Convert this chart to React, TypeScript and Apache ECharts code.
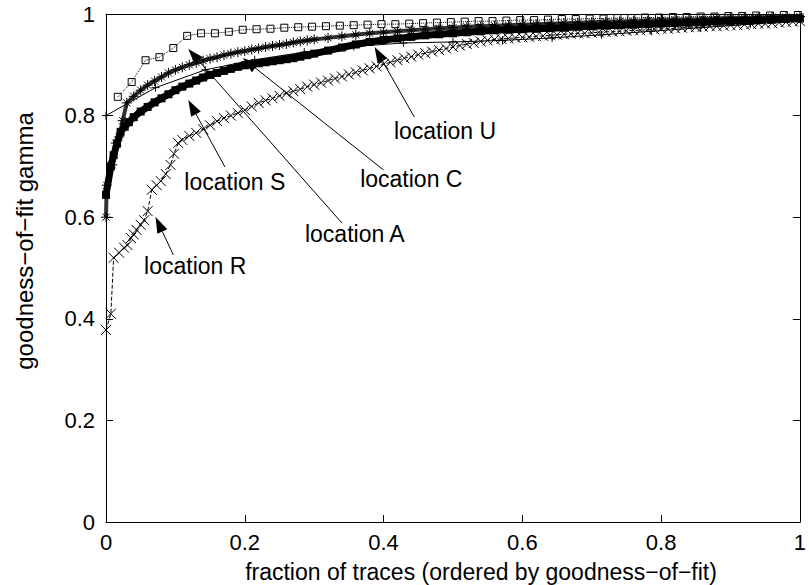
import React, { useEffect, useRef } from "react";
import * as echarts from "echarts";

// ---------- data ----------
const xTicks = [0, 0.2, 0.4, 0.6, 0.8, 1];
const yTicks = [0, 0.2, 0.4, 0.6, 0.8, 1];

// open squares, dotted line (topmost curve)
const seriesBox: [number, number][] = [
  [0.017, 0.837], [0.037, 0.866], [0.057, 0.909], [0.077, 0.915], [0.097, 0.933],
  [0.117, 0.957], [0.137, 0.962], [0.157, 0.962], [0.177, 0.965], [0.197, 0.969],
  [0.217, 0.97], [0.237, 0.971], [0.257, 0.973], [0.277, 0.974], [0.297, 0.975],
  [0.317, 0.976], [0.337, 0.977], [0.357, 0.978], [0.377, 0.979], [0.397, 0.98],
  [0.417, 0.98], [0.437, 0.981], [0.457, 0.982], [0.477, 0.983], [0.497, 0.984],
  [0.517, 0.985], [0.537, 0.986], [0.557, 0.986], [0.577, 0.987], [0.597, 0.988],
  [0.617, 0.988], [0.637, 0.989], [0.657, 0.99], [0.677, 0.99], [0.697, 0.991],
  [0.717, 0.991], [0.737, 0.992], [0.757, 0.992], [0.777, 0.993], [0.797, 0.993],
  [0.817, 0.994], [0.837, 0.994], [0.857, 0.995], [0.877, 0.995], [0.897, 0.996],
  [0.917, 0.996], [0.937, 0.997], [0.957, 0.997], [0.977, 0.998], [0.997, 0.998],
];

// location U: plus markers, solid thin line
const seriesU: [number, number][] = [
  [0, 0.8], [0.0714, 0.855], [0.1429, 0.89], [0.2143, 0.91], [0.2857, 0.925],
  [0.3571, 0.936], [0.4286, 0.943], [0.5, 0.945], [0.5714, 0.948], [0.6429, 0.953],
  [0.7143, 0.959], [0.7857, 0.966], [0.8571, 0.973], [0.9286, 0.98], [1, 0.99],
];

// location A: asterisks
const seriesA: [number, number][] = [
  [0, 0.6], [0.001, 0.663], [0.009, 0.703], [0.014, 0.746], [0.019, 0.758],
  [0.024, 0.79], [0.03, 0.825], [0.04, 0.838], [0.05, 0.85], [0.06, 0.86],
  [0.07, 0.868], [0.08, 0.876], [0.09, 0.884], [0.1, 0.89], [0.11, 0.895],
  [0.12, 0.9], [0.13, 0.904], [0.14, 0.908], [0.15, 0.912], [0.16, 0.915],
  [0.17, 0.919], [0.18, 0.922], [0.19, 0.925], [0.2, 0.927], [0.21, 0.93],
  [0.22, 0.932], [0.23, 0.935], [0.24, 0.937], [0.25, 0.939], [0.26, 0.941],
  [0.27, 0.944], [0.28, 0.946], [0.29, 0.948], [0.3, 0.95], [0.32, 0.953],
  [0.34, 0.956], [0.36, 0.959], [0.38, 0.962], [0.4, 0.964], [0.42, 0.966],
  [0.44, 0.968], [0.46, 0.97], [0.48, 0.972], [0.5, 0.973], [0.52, 0.975],
  [0.54, 0.976], [0.56, 0.977], [0.58, 0.978], [0.6, 0.979], [0.62, 0.98],
  [0.64, 0.981], [0.66, 0.982], [0.68, 0.983], [0.7, 0.984], [0.72, 0.985],
  [0.74, 0.985], [0.76, 0.986], [0.78, 0.987], [0.8, 0.988], [0.82, 0.989],
  [0.84, 0.989], [0.86, 0.99], [0.88, 0.991], [0.9, 0.992], [0.92, 0.992],
  [0.94, 0.993], [0.96, 0.994], [0.98, 0.994], [1, 0.995],
];

// location S: filled squares
const seriesS: [number, number][] = [
  [0, 0.644], [0.007, 0.7], [0.011, 0.722], [0.016, 0.745], [0.021, 0.768],
  [0.027, 0.778], [0.033, 0.787], [0.04, 0.797], [0.05, 0.808], [0.06, 0.817],
  [0.07, 0.826], [0.08, 0.834], [0.09, 0.842], [0.1, 0.85], [0.11, 0.857],
  [0.12, 0.863], [0.13, 0.869], [0.14, 0.875], [0.15, 0.88], [0.16, 0.884],
  [0.17, 0.888], [0.18, 0.892], [0.19, 0.896], [0.2, 0.899], [0.21, 0.901],
  [0.22, 0.903], [0.23, 0.905], [0.24, 0.907], [0.25, 0.909], [0.26, 0.911],
  [0.27, 0.913], [0.28, 0.916], [0.29, 0.919], [0.3, 0.922], [0.32, 0.928],
  [0.34, 0.934], [0.36, 0.94], [0.38, 0.945], [0.4, 0.949], [0.42, 0.952],
  [0.44, 0.955], [0.46, 0.958], [0.48, 0.96], [0.5, 0.962], [0.52, 0.964],
  [0.54, 0.966], [0.56, 0.968], [0.58, 0.969], [0.6, 0.97], [0.62, 0.971],
  [0.64, 0.972], [0.66, 0.973], [0.68, 0.975], [0.7, 0.976], [0.72, 0.977],
  [0.74, 0.978], [0.76, 0.979], [0.78, 0.98], [0.8, 0.981], [0.82, 0.982],
  [0.84, 0.983], [0.86, 0.984], [0.88, 0.985], [0.9, 0.986], [0.92, 0.987],
  [0.94, 0.988], [0.96, 0.989], [0.98, 0.99], [1, 0.991],
];

// location R: crosses, dashed line (lowest curve)
const seriesR: [number, number][] = [
  [0, 0.378], [0.007, 0.41], [0.011, 0.52], [0.019, 0.53], [0.026, 0.54],
  [0.031, 0.545], [0.036, 0.559], [0.04, 0.566], [0.044, 0.575], [0.05, 0.585],
  [0.055, 0.594], [0.06, 0.612], [0.066, 0.654], [0.073, 0.663], [0.079, 0.671],
  [0.086, 0.685], [0.093, 0.703], [0.098, 0.725], [0.104, 0.746], [0.11, 0.752],
  [0.12, 0.76], [0.13, 0.766], [0.14, 0.773], [0.15, 0.781], [0.16, 0.789],
  [0.17, 0.795], [0.18, 0.8], [0.19, 0.805], [0.2, 0.811], [0.21, 0.818],
  [0.22, 0.825], [0.23, 0.83], [0.24, 0.834], [0.25, 0.839], [0.26, 0.844],
  [0.27, 0.848], [0.28, 0.852], [0.29, 0.857], [0.3, 0.861], [0.31, 0.865],
  [0.32, 0.869], [0.33, 0.873], [0.34, 0.877], [0.35, 0.881], [0.36, 0.885],
  [0.37, 0.889], [0.38, 0.893], [0.39, 0.897], [0.4, 0.901], [0.41, 0.905],
  [0.42, 0.909], [0.43, 0.913], [0.44, 0.916], [0.45, 0.92], [0.46, 0.923],
  [0.47, 0.926], [0.48, 0.929], [0.49, 0.932], [0.5, 0.935], [0.51, 0.938],
  [0.52, 0.941], [0.53, 0.943], [0.54, 0.946], [0.55, 0.948], [0.56, 0.95],
  [0.57, 0.951], [0.58, 0.952], [0.59, 0.953], [0.6, 0.954], [0.61, 0.955],
  [0.62, 0.956], [0.63, 0.957], [0.64, 0.958], [0.65, 0.959], [0.66, 0.96],
  [0.67, 0.961], [0.68, 0.962], [0.69, 0.962], [0.7, 0.963], [0.71, 0.964],
  [0.72, 0.965], [0.73, 0.965], [0.74, 0.966], [0.75, 0.967], [0.76, 0.968],
  [0.77, 0.968], [0.78, 0.969], [0.79, 0.97], [0.8, 0.971], [0.81, 0.971],
  [0.82, 0.972], [0.83, 0.973], [0.84, 0.974], [0.85, 0.974], [0.86, 0.975],
  [0.87, 0.976], [0.88, 0.976], [0.89, 0.977], [0.9, 0.978], [0.91, 0.978],
  [0.92, 0.979], [0.93, 0.98], [0.94, 0.981], [0.95, 0.981], [0.96, 0.982],
  [0.97, 0.983], [0.98, 0.984], [0.99, 0.985], [1, 0.986],
];

// annotations: label text, label centre, arrow tail, arrow tip (data coordinates)
const labelTexts = ["location U", "location C", "location A", "location S", "location R"];
const labelCenters: [number, number][] = [
  [0.4886, 0.7697], [0.44, 0.675], [0.3586, 0.567], [0.1857, 0.669], [0.1286, 0.504],
];
const arrowTails: [number, number][] = [
  [0.4443, 0.7972], [0.4, 0.6929], [0.34, 0.5886], [0.1714, 0.6988], [0.0971, 0.5256],
];
const arrowTips: [number, number][] = [
  [0.3871, 0.935], [0.1971, 0.9134], [0.1186, 0.9311], [0.1186, 0.8307], [0.0714, 0.6004],
];

const xTitle = "fraction of traces (ordered by goodness\u2212of\u2212fit)";
const yTitle = "goodness\u2212of\u2212fit gamma";

// ---------- symbols ----------
const SYM_PLUS = "path://M0,5L10,5M5,0L5,10";
const SYM_CROSS = "path://M0,0L10,10M10,0L0,10";
const SYM_STAR = "path://M0,5L10,5M5,0L5,10M1.5,1.5L8.5,8.5M8.5,1.5L1.5,8.5";
const SYM_BOX = "path://M0,0L10,0L10,10L0,10Z";

const FONT = '"Liberation Sans", Arial, Helvetica, sans-serif';

export default function App() {
  const ref = useRef<HTMLDivElement>(null);

  useEffect(() => {
    document.body.style.margin = "0";
    if (!ref.current) return;
    const chart = echarts.init(ref.current, undefined, { renderer: "svg" });

    const strokeSym = { color: "transparent", borderColor: "#000", borderWidth: 1 };
    const common = {
      type: "line" as const,
      xAxisIndex: 0,
      yAxisIndex: 0,
      showSymbol: true,
      showAllSymbol: true,
      silent: true,
      emphasis: { disabled: true },
      animation: false,
    };

    const axisBase = {
      type: "value" as const,
      min: xTicks[0],
      max: xTicks[xTicks.length - 1],
      interval: xTicks[1] - xTicks[0],
      splitLine: { show: false },
      axisLine: { show: true, onZero: false, lineStyle: { color: "#000", width: 1 } },
      axisTick: { show: true, inside: true, length: 7, lineStyle: { color: "#000", width: 1 } },
    };
    const yAxisBase = {
      ...axisBase,
      min: yTicks[0],
      max: yTicks[yTicks.length - 1],
      interval: yTicks[1] - yTicks[0],
    };

    chart.setOption({
      animation: false,
      grid: { left: 106, right: 2, top: 14, bottom: 63, containLabel: false },
      xAxis: [
        {
          ...axisBase,
          position: "bottom",
          axisLabel: { show: true, color: "#000", fontSize: 22, fontFamily: FONT, margin: 9 },
        },
        { ...axisBase, position: "top", axisLabel: { show: false } },
      ],
      yAxis: [
        {
          ...yAxisBase,
          position: "left",
          axisLabel: { show: true, color: "#000", fontSize: 22, fontFamily: FONT, margin: 11 },
        },
        { ...yAxisBase, position: "right", axisLabel: { show: false } },
      ],
      series: [
        {
          ...common,
          name: "boxes",
          data: seriesBox,
          symbol: SYM_BOX,
          symbolSize: 7,
          itemStyle: strokeSym,
          lineStyle: { color: "#000", width: 1, type: "dotted" },
        },
        {
          ...common,
          name: "location U",
          data: seriesU,
          symbol: SYM_PLUS,
          symbolSize: 8,
          itemStyle: strokeSym,
          lineStyle: { color: "#000", width: 1 },
        },
        {
          ...common,
          name: "location A",
          data: seriesA,
          symbol: SYM_STAR,
          symbolSize: 10,
          itemStyle: strokeSym,
          lineStyle: { color: "#333", width: 4 },
        },
        {
          ...common,
          name: "location S",
          data: seriesS,
          symbol: "rect",
          symbolSize: 8,
          itemStyle: { color: "#000" },
          lineStyle: { color: "#000", width: 7 },
        },
        {
          ...common,
          name: "location R",
          data: seriesR,
          symbol: SYM_CROSS,
          symbolSize: 10,
          itemStyle: strokeSym,
          lineStyle: { color: "#000", width: 1, type: "dashed" },
        },
      ],
    });

    const toPx = (p: [number, number]) =>
      chart.convertToPixel({ xAxisIndex: 0, yAxisIndex: 0 }, p) as number[];

    const graphics: any[] = [];
    const headLen = 16;
    const headHalf = 5.5;
    for (let i = 0; i < labelTexts.length; i++) {
      const c = toPx(labelCenters[i]);
      const t = toPx(arrowTails[i]);
      const h = toPx(arrowTips[i]);
      const dx = h[0] - t[0];
      const dy = h[1] - t[1];
      const len = Math.sqrt(dx * dx + dy * dy);
      const ux = dx / len;
      const uy = dy / len;
      const bx = h[0] - ux * headLen;
      const by = h[1] - uy * headLen;
      graphics.push({
        type: "line",
        shape: { x1: t[0], y1: t[1], x2: bx, y2: by },
        style: { stroke: "#000", lineWidth: 1 },
        silent: true,
      });
      graphics.push({
        type: "polygon",
        shape: {
          points: [
            [h[0], h[1]],
            [bx - uy * headHalf, by + ux * headHalf],
            [bx + uy * headHalf, by - ux * headHalf],
          ],
        },
        style: { fill: "#000" },
        silent: true,
      });
      graphics.push({
        type: "text",
        x: c[0],
        y: c[1],
        style: {
          text: labelTexts[i],
          fill: "#000",
          font: `23px ${FONT}`,
          textAlign: "center",
          textVerticalAlign: "middle",
        },
        silent: true,
      });
    }
    // axis titles
    graphics.push({
      type: "text",
      x: 481,
      y: 572,
      style: {
        text: xTitle,
        fill: "#000",
        font: `23px ${FONT}`,
        textAlign: "center",
        textVerticalAlign: "middle",
      },
      silent: true,
    });
    graphics.push({
      type: "text",
      x: 24,
      y: 241,
      rotation: Math.PI / 2,
      style: {
        text: yTitle,
        fill: "#000",
        font: `24px ${FONT}`,
        textAlign: "center",
        textVerticalAlign: "middle",
      },
      silent: true,
    });

    chart.setOption({ graphic: graphics });

    return () => {
      chart.dispose();
    };
  }, []);

  return <div ref={ref} style={{ width: 809, height: 585 }} />;
}
